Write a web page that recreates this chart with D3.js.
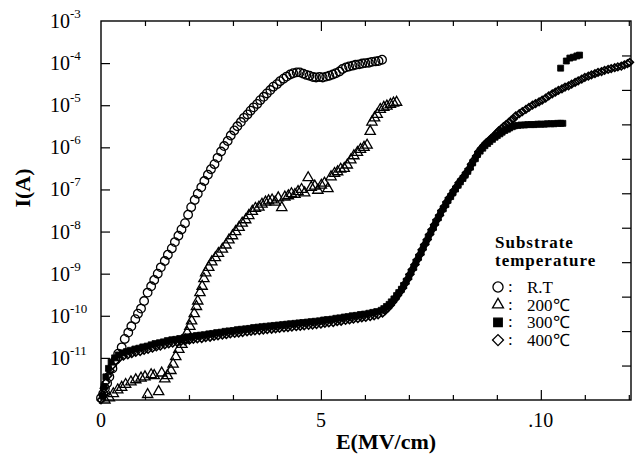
<!DOCTYPE html>
<html><head><meta charset="utf-8">
<script src="https://cdn.jsdelivr.net/npm/d3@7"></script>
<style>body{margin:0;background:#fff}svg{display:block}</style>
</head><body>
<svg id="chart" width="639" height="459"></svg>
<script>
// Data: [E (MV/cm), log10 I (A)]
const seriesNames = ["R.T", "200℃", "300℃", "400℃"];
const rtData = [
[0.0,-11.95],[0.05,-11.85],[0.09,-11.72],[0.14,-11.6],[0.19,-11.45],[0.26,-11.25],[0.33,-11.05],[0.39,-10.9],
[0.47,-10.75],[0.54,-10.55],[0.62,-10.4],[0.69,-10.25],[0.78,-10.08],[0.84,-9.95],[0.91,-9.83],[0.98,-9.65],
[1.06,-9.45],[1.14,-9.3],[1.21,-9.15],[1.29,-9.0],[1.36,-8.85],[1.45,-8.7],[1.52,-8.55],[1.61,-8.4],
[1.68,-8.25],[1.76,-8.1],[1.83,-7.95],[1.91,-7.8],[1.98,-7.6],[2.05,-7.42],[2.13,-7.25],[2.2,-7.1],
[2.28,-6.95],[2.35,-6.8],[2.43,-6.65],[2.5,-6.52],[2.58,-6.4],[2.65,-6.25],[2.73,-6.1],[2.8,-5.97],
[2.88,-5.85],[2.95,-5.72],[3.03,-5.6],[3.1,-5.5],[3.18,-5.4],[3.25,-5.3],[3.33,-5.22],[3.4,-5.13],
[3.47,-5.05],[3.55,-4.97],[3.62,-4.88],[3.7,-4.8],[3.77,-4.72],[3.85,-4.64],[3.92,-4.56],[4.0,-4.5],
[4.07,-4.43],[4.15,-4.37],[4.22,-4.32],[4.3,-4.27],[4.37,-4.24],[4.45,-4.22],[4.52,-4.22],[4.6,-4.25],
[4.67,-4.28],[4.74,-4.3],[4.82,-4.33],[4.89,-4.34],[4.97,-4.33],[5.04,-4.34],[5.12,-4.32],[5.19,-4.3],
[5.27,-4.27],[5.34,-4.24],[5.42,-4.2],[5.49,-4.14],[5.57,-4.1],[5.64,-4.08],[5.72,-4.06],[5.79,-4.04],
[5.87,-4.03],[5.94,-4.01],[6.01,-4.0],[6.09,-3.99],[6.16,-3.97],[6.24,-3.96],[6.31,-3.95],[6.39,-3.92]
];
const t200Data = [
[0.09,-12.0],[0.19,-11.95],[0.28,-11.85],[0.38,-11.76],[0.47,-11.7],[0.56,-11.63],[0.68,-11.57],[0.79,-11.52],
[0.91,-11.48],[1.0,-11.45],[1.06,-11.87],[1.14,-11.4],[1.21,-11.42],[1.31,-11.8],[1.38,-11.36],[1.45,-11.5],
[1.51,-11.42],[1.59,-11.3],[1.64,-11.15],[1.7,-10.97],[1.77,-10.8],[1.84,-10.68],[1.91,-10.57],[1.96,-10.4],
[2.02,-10.25],[2.06,-10.12],[2.12,-9.95],[2.17,-9.78],[2.2,-9.65],[2.25,-9.45],[2.3,-9.3],[2.34,-9.12],
[2.38,-8.98],[2.45,-8.85],[2.52,-8.72],[2.6,-8.62],[2.67,-8.52],[2.76,-8.42],[2.84,-8.32],[2.91,-8.2],
[2.99,-8.1],[3.06,-8.0],[3.14,-7.9],[3.21,-7.8],[3.29,-7.72],[3.36,-7.62],[3.44,-7.52],[3.51,-7.45],
[3.59,-7.42],[3.66,-7.35],[3.74,-7.3],[3.81,-7.27],[3.89,-7.25],[3.96,-7.3],[4.03,-7.2],[4.11,-7.43],
[4.18,-7.18],[4.26,-7.15],[4.33,-7.1],[4.41,-7.12],[4.48,-7.05],[4.56,-7.0],[4.63,-7.08],[4.71,-6.72],
[4.78,-6.95],[4.86,-6.92],[4.93,-7.02],[5.01,-6.9],[5.08,-6.85],[5.16,-6.98],[5.23,-6.7],[5.31,-6.62],
[5.38,-6.58],[5.45,-6.52],[5.53,-6.5],[5.6,-6.42],[5.68,-6.3],[5.75,-6.2],[5.83,-6.12],[5.9,-6.05],
[5.98,-6.0],[6.05,-5.95],[6.12,-5.62],[6.16,-5.4],[6.22,-5.3],[6.28,-5.22],[6.35,-5.1],[6.43,-5.05],
[6.5,-5.02],[6.58,-4.98],[6.65,-4.95],[6.72,-4.93]
];
const t300Data = [
[0.03,-11.9],[0.07,-11.68],[0.11,-11.45],[0.17,-11.25],[0.23,-11.1],[0.31,-11.0],[0.39,-10.93],[0.49,-10.88],
[0.58,-10.85],[0.67,-10.82],[0.77,-10.79],[0.86,-10.77],[0.95,-10.74],[1.05,-10.72],[1.14,-10.69],[1.23,-10.66],
[1.33,-10.64],[1.42,-10.62],[1.51,-10.59],[1.61,-10.57],[1.7,-10.56],[1.79,-10.54],[1.89,-10.52],[1.98,-10.5],
[2.07,-10.49],[2.17,-10.47],[2.26,-10.46],[2.35,-10.45],[2.45,-10.43],[2.54,-10.42],[2.63,-10.4],[2.73,-10.39],
[2.82,-10.37],[2.91,-10.36],[3.01,-10.35],[3.1,-10.33],[3.19,-10.32],[3.29,-10.31],[3.38,-10.3],[3.47,-10.28],
[3.57,-10.27],[3.66,-10.26],[3.75,-10.25],[3.85,-10.24],[3.94,-10.23],[4.03,-10.22],[4.13,-10.21],[4.22,-10.2],
[4.31,-10.19],[4.41,-10.18],[4.5,-10.17],[4.59,-10.16],[4.69,-10.15],[4.78,-10.14],[4.87,-10.13],[4.97,-10.12],
[5.06,-10.1],[5.15,-10.09],[5.25,-10.08],[5.34,-10.06],[5.43,-10.05],[5.53,-10.03],[5.62,-10.02],[5.71,-10.0],
[5.81,-9.99],[5.9,-9.97],[5.99,-9.96],[6.09,-9.94],[6.18,-9.92],[6.27,-9.9],[6.37,-9.87],[6.43,-9.83],
[6.49,-9.78],[6.55,-9.73],[6.6,-9.67],[6.66,-9.6],[6.72,-9.52],[6.77,-9.45],[6.83,-9.37],[6.88,-9.28],
[6.94,-9.18],[7.0,-9.07],[7.05,-8.96],[7.11,-8.85],[7.16,-8.73],[7.22,-8.61],[7.28,-8.49],[7.33,-8.37],
[7.39,-8.25],[7.44,-8.13],[7.5,-8.01],[7.56,-7.9],[7.61,-7.78],[7.67,-7.67],[7.72,-7.56],[7.78,-7.46],
[7.84,-7.36],[7.89,-7.26],[7.95,-7.17],[8.0,-7.08],[8.06,-6.99],[8.12,-6.9],[8.17,-6.82],[8.23,-6.74],
[8.28,-6.66],[8.34,-6.57],[8.4,-6.47],[8.45,-6.37],[8.51,-6.27],[8.56,-6.17],[8.62,-6.09],[8.68,-6.02],
[8.73,-5.96],[8.79,-5.91],[8.84,-5.86],[8.9,-5.81],[8.96,-5.76],[9.01,-5.72],[9.07,-5.68],[9.12,-5.64],
[9.18,-5.6],[9.24,-5.57],[9.29,-5.54],[9.35,-5.51],[9.4,-5.49],[9.48,-5.48],[9.55,-5.47],[9.63,-5.47],
[9.7,-5.46],[9.78,-5.46],[9.85,-5.46],[9.93,-5.45],[10.0,-5.45],[10.08,-5.45],[10.15,-5.44],[10.23,-5.44],
[10.3,-5.44],[10.38,-5.43],[10.45,-5.43],[10.5,-5.43],
[10.45,-4.12],[10.58,-3.95],[10.66,-3.88],[10.74,-3.86],[10.82,-3.83],[10.88,-3.81]
];
const t400Data = [
[0.0,-12.0],[0.04,-11.88],[0.07,-11.72],[0.11,-11.58],[0.16,-11.42],[0.21,-11.3],[0.26,-11.18],[0.33,-11.08],
[0.42,-11.0],[0.51,-10.96],[0.61,-10.93],[0.7,-10.9],[0.79,-10.87],[0.89,-10.85],[0.98,-10.82],[1.07,-10.8],
[1.17,-10.77],[1.26,-10.74],[1.35,-10.72],[1.45,-10.69],[1.54,-10.67],[1.63,-10.65],[1.73,-10.63],[1.82,-10.61],
[1.91,-10.6],[2.01,-10.58],[2.1,-10.56],[2.19,-10.55],[2.29,-10.54],[2.38,-10.52],[2.48,-10.51],[2.57,-10.49],
[2.66,-10.48],[2.76,-10.46],[2.85,-10.45],[2.94,-10.43],[3.04,-10.42],[3.13,-10.41],[3.22,-10.4],[3.32,-10.38],
[3.41,-10.37],[3.5,-10.36],[3.6,-10.35],[3.69,-10.34],[3.78,-10.33],[3.88,-10.32],[3.97,-10.31],[4.06,-10.3],
[4.16,-10.29],[4.25,-10.28],[4.34,-10.27],[4.44,-10.26],[4.53,-10.25],[4.62,-10.24],[4.72,-10.23],[4.81,-10.22],
[4.9,-10.21],[5.0,-10.2],[5.09,-10.18],[5.18,-10.17],[5.28,-10.16],[5.37,-10.14],[5.46,-10.13],[5.56,-10.11],
[5.65,-10.1],[5.74,-10.08],[5.84,-10.07],[5.93,-10.05],[6.02,-10.04],[6.12,-10.02],[6.21,-10.0],[6.3,-9.98],
[6.4,-9.94],[6.46,-9.88],[6.52,-9.82],[6.58,-9.75],[6.63,-9.68],[6.69,-9.6],[6.74,-9.52],[6.8,-9.43],
[6.86,-9.34],[6.91,-9.24],[6.97,-9.13],[7.02,-9.02],[7.08,-8.9],[7.14,-8.78],[7.19,-8.67],[7.25,-8.55],
[7.3,-8.43],[7.36,-8.31],[7.42,-8.19],[7.47,-8.07],[7.53,-7.95],[7.58,-7.84],[7.64,-7.72],[7.7,-7.61],
[7.75,-7.5],[7.81,-7.4],[7.86,-7.3],[7.92,-7.2],[7.98,-7.11],[8.03,-7.02],[8.09,-6.93],[8.14,-6.84],
[8.2,-6.76],[8.26,-6.68],[8.31,-6.6],[8.37,-6.51],[8.42,-6.4],[8.48,-6.3],[8.54,-6.2],[8.59,-6.1],
[8.65,-6.02],[8.71,-5.95],[8.76,-5.89],[8.82,-5.84],[8.87,-5.79],[8.93,-5.73],[8.99,-5.67],[9.04,-5.61],
[9.1,-5.56],[9.15,-5.51],[9.21,-5.46],[9.27,-5.41],[9.32,-5.36],[9.38,-5.32],[9.43,-5.25],[9.51,-5.2],
[9.58,-5.15],[9.66,-5.1],[9.73,-5.05],[9.81,-5.0],[9.88,-4.96],[9.96,-4.92],[10.03,-4.88],[10.11,-4.83],
[10.18,-4.78],[10.26,-4.73],[10.33,-4.69],[10.4,-4.65],[10.48,-4.61],[10.55,-4.57],[10.63,-4.54],[10.7,-4.5],
[10.78,-4.46],[10.85,-4.42],[10.93,-4.38],[11.0,-4.34],[11.08,-4.31],[11.15,-4.28],[11.23,-4.25],[11.3,-4.22],
[11.38,-4.2],[11.45,-4.17],[11.53,-4.15],[11.6,-4.13],[11.68,-4.11],[11.75,-4.09],[11.83,-4.07],[11.9,-4.04],
[11.97,-4.01],[12.02,-3.98]
];
const yTickExponents = [-3,-4,-5,-6,-7,-8,-9,-10,-11];
const xTickValues = [0, 5, 10];
const xTickLabels = ["0", "5", ".10"];

const svg = d3.select("#chart");
const L = 101, R = 631, T = 21, B = 400;
const x = d3.scaleLinear().domain([0, 12.05]).range([L, R]);
const y = d3.scaleLog().domain([1e-12, 1e-3]).range([B, T]);
const yRight = d3.scaleLinear().domain([0, 11]).range([B, T]);
const FONT = "Liberation Serif, Times New Roman, serif";

// axes (inward ticks)
const minorX = d3.range(1, 13).filter(v => v % 5 !== 0);
svg.append("g").attr("transform", `translate(0,${B})`)
  .call(d3.axisBottom(x).tickValues([5, 10]).tickSize(-10).tickFormat(""))
  .call(g => g.select(".domain").remove());
svg.append("g").attr("transform", `translate(0,${B})`)
  .call(d3.axisBottom(x).tickValues(minorX.filter(v => x(v) < R - 2)).tickSize(-5).tickFormat(""))
  .call(g => g.select(".domain").remove());
svg.append("g").attr("transform", `translate(0,${T})`)
  .call(d3.axisTop(x).tickValues([5, 10]).tickSize(-10).tickFormat(""))
  .call(g => g.select(".domain").remove());
svg.append("g").attr("transform", `translate(0,${T})`)
  .call(d3.axisTop(x).tickValues(minorX.filter(v => x(v) < R - 2)).tickSize(-5).tickFormat(""))
  .call(g => g.select(".domain").remove());
svg.append("g").attr("transform", `translate(${L},0)`)
  .call(d3.axisLeft(y).tickValues(yTickExponents.slice(1).map(e => Math.pow(10, e))).tickSize(-9).tickFormat(""))
  .call(g => g.select(".domain").remove());
svg.append("g").attr("transform", `translate(${R},0)`)
  .call(d3.axisRight(yRight).tickValues(d3.range(1, 11)).tickSize(-9).tickFormat(""))
  .call(g => g.select(".domain").remove());
svg.selectAll(".tick line").attr("stroke", "#000").attr("stroke-width", 1.2);

svg.append("rect").attr("x", L).attr("y", T).attr("width", R - L).attr("height", B - T)
  .attr("fill", "none").attr("stroke", "#000").attr("stroke-width", 1.4);

// tick labels
const yl = svg.append("g").attr("font-family", FONT).attr("fill", "#000");
yTickExponents.forEach(e => {
  const t = yl.append("text").attr("x", 50).attr("y", y(Math.pow(10, e)) + 7).attr("font-size", 20);
  t.append("tspan").text("10");
  t.append("tspan").attr("font-size", 13).attr("dy", -10).text("-" + Math.abs(e));
});
svg.append("g").selectAll("text").data(xTickValues).join("text")
  .attr("x", d => x(d)).attr("y", 427).attr("text-anchor", "middle")
  .attr("font-family", FONT).attr("font-size", 20).text((d, i) => xTickLabels[i]);

// axis titles
svg.append("text").attr("x", 386).attr("y", 449).attr("text-anchor", "middle")
  .attr("font-family", FONT).attr("font-size", 22).attr("font-weight", "bold").text("E(MV/cm)");
svg.append("text").attr("transform", "translate(30,188) rotate(-90)").attr("text-anchor", "middle")
  .attr("font-family", FONT).attr("font-size", 22).attr("font-weight", "bold").text("I(A)");

// symbols
const sym = {
  circle: d3.symbol().type(d3.symbolCircle).size(58),
  triangle: d3.symbol().type(d3.symbolTriangle).size(46),
  square: d3.symbol().type(d3.symbolSquare).size(36),
  diamond: d3.symbol().type(d3.symbolSquare).size(28)
};
const plot = svg.append("g");
function drawSeries(data, kind) {
  const g = plot.append("g");
  g.selectAll("path").data(data).join("path")
    .attr("d", sym[kind]())
    .attr("transform", d => `translate(${x(d[0])},${y(Math.pow(10, d[1]))})` + (kind === "diamond" ? " rotate(45)" : ""))
    .attr("fill", kind === "square" ? "#000" : "none")
    .attr("stroke", "#000")
    .attr("stroke-width", kind === "diamond" ? 1.6 : (kind === "square" ? 0.8 : 1.3));
}
drawSeries(t400Data, "diamond");
drawSeries(t300Data, "square");
drawSeries(t200Data, "triangle");
drawSeries(rtData, "circle");

// legend
const lg = svg.append("g").attr("font-family", FONT).attr("fill", "#000");
lg.append("text").attr("x", 495).attr("y", 248).attr("font-size", 17).attr("font-weight", "bold")
  .attr("letter-spacing", 1).text("Substrate");
lg.append("text").attr("x", 495).attr("y", 266).attr("font-size", 17).attr("font-weight", "bold")
  .attr("letter-spacing", 1).text("temperature");
const legendKinds = ["circle", "triangle", "square", "diamond"];
const legendSym = {
  circle: d3.symbol().type(d3.symbolCircle).size(80),
  triangle: d3.symbol().type(d3.symbolTriangle).size(52),
  square: d3.symbol().type(d3.symbolSquare).size(72),
  diamond: d3.symbol().type(d3.symbolSquare).size(60)
};
seriesNames.forEach((name, i) => {
  const cy = 287 + i * 17.7;
  lg.append("path").attr("d", legendSym[legendKinds[i]]())
    .attr("transform", `translate(498,${cy})` + (legendKinds[i] === "diamond" ? " rotate(45)" : ""))
    .attr("fill", legendKinds[i] === "square" ? "#000" : "none")
    .attr("stroke", "#000").attr("stroke-width", 1.3);
  lg.append("text").attr("x", 508).attr("y", cy + 5).attr("font-size", 17).text(":");
  lg.append("text").attr("x", 527).attr("y", cy + 6).attr("font-size", 17).text(name);
});
</script>
</body></html>
